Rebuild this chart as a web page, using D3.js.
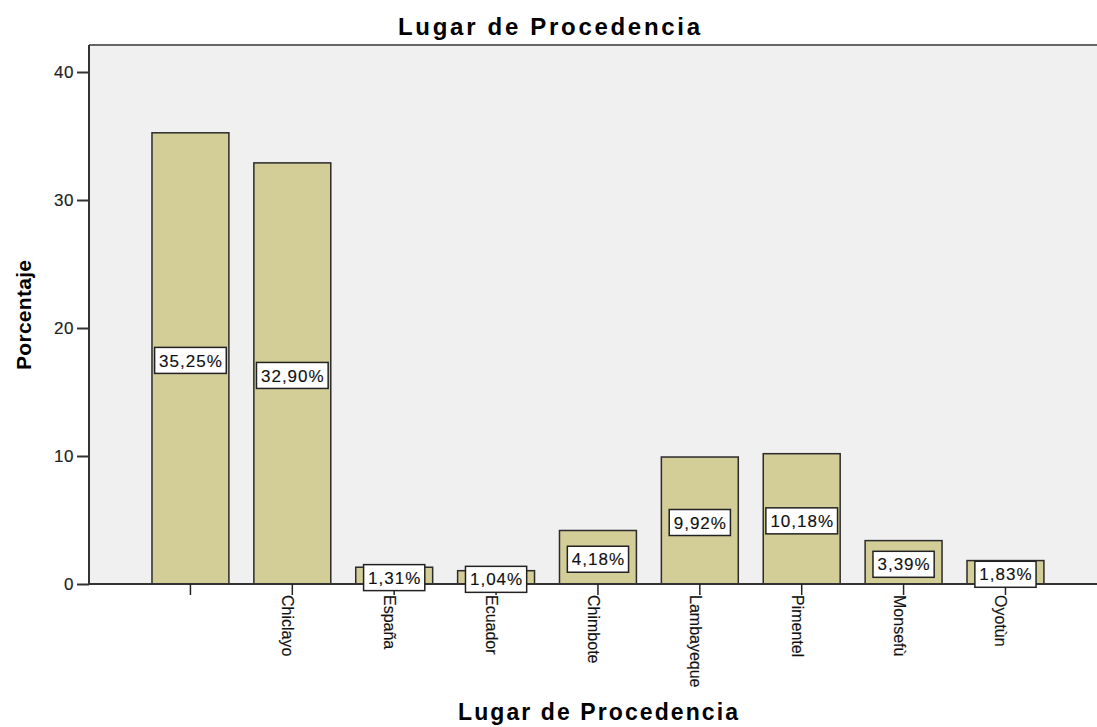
<!DOCTYPE html>
<html>
<head>
<meta charset="utf-8">
<script src="https://d3js.org/d3.v7.min.js"></script>
<style>
  body { margin: 0; background: white; }
  svg { font-family: 'Liberation Sans', Arial, sans-serif; }
</style>
</head>
<body>
<svg id="chart" width="1097" height="727"></svg>
<script>
  // data
  var categories = ["", "Chiclayo", "España", "Ecuador", "Chimbote", "Lambayeque", "Pimentel", "Monsefù", "Oyotùn"];
  var percents = [35.25, 32.90, 1.31, 1.04, 4.18, 9.92, 10.18, 3.39, 1.83];
  var yTicks = [0, 10, 20, 30, 40];

  var svg = d3.select("#chart");
  var fmt = d3.formatLocale({ decimal: ",", thousands: ".", grouping: [3], currency: ["", ""] }).format(".2f");

  var x = d3.scaleBand().domain(categories).range([139.5, 1056.4]).paddingInner(0.245).paddingOuter(0.1225);
  var y = d3.scaleLinear().domain([0, 42.11]).range([584, 45]);

  // plot background
  svg.append("rect")
    .attr("x", 89).attr("y", 45).attr("width", 1020).attr("height", 539)
    .attr("fill", "#f0f0f0");
  // frame top line
  svg.append("line")
    .attr("x1", 89).attr("x2", 1097).attr("y1", 45).attr("y2", 45)
    .attr("stroke", "#666").attr("stroke-width", 2);

  //bars
  var rows = categories.map(function (c, i) { return { cat: c, v: percents[i] }; });
  svg.append("g").selectAll("rect")
    .data(rows).enter().append("rect")
    .attr("x", function (d) { return x(d.cat); })
    .attr("y", function (d) { return y(d.v); })
    .attr("width", x.bandwidth())
    .attr("height", function (d) { return y(0) - y(d.v); })
    .attr("fill", "#d3cd98")
    .attr("stroke", "#2b2b2b")
    .attr("stroke-width", 1.5);

  // y axis
  var yAxis = svg.append("g")
    .attr("transform", "translate(89,0)")
    .call(d3.axisLeft(y).tickValues(yTicks).tickSize(12).tickPadding(3));
  yAxis.select(".domain").attr("stroke", "#333").attr("stroke-width", 2).attr("d", "M0,45V584");
  yAxis.selectAll(".tick line").attr("stroke", "#333").attr("stroke-width", 2);
  yAxis.selectAll(".tick text")
    .attr("font-size", 17).attr("letter-spacing", "0.5px").attr("fill", "#222")
    .attr("stroke", "#222").attr("stroke-width", 0.15)
    .attr("font-family", "'Liberation Sans', Arial, sans-serif");

  // x axis
  var xAxis = svg.append("g")
    .attr("transform", "translate(0,584)")
    .call(d3.axisBottom(x).tickSize(11).tickSizeOuter(0));
  xAxis.select(".domain").attr("stroke", "#333").attr("stroke-width", 2).attr("d", "M89,0H1097");
  xAxis.selectAll(".tick line").attr("stroke", "#222").attr("stroke-width", 1.5);
  xAxis.selectAll(".tick text")
    .attr("font-size", 16).attr("fill", "#111")
    .attr("stroke", "#111").attr("stroke-width", 0.15)
    .attr("font-family", "'Liberation Sans', Arial, sans-serif")
    .attr("text-anchor", "start")
    .attr("dy", null)
    .attr("x", 11).attr("y", 10)
    .attr("transform", "rotate(90)");

  // value labels in boxes
  var lab = svg.append("g").selectAll("g")
    .data(rows).enter().append("g")
    .attr("transform", function (d) {
      return "translate(" + (x(d.cat) + x.bandwidth() / 2) + "," + ((y(d.v) + y(0)) / 2 + 2) + ")";
    });
  lab.append("rect").attr("class", "box")
    .attr("fill", "white").attr("stroke", "#222").attr("stroke-width", 1.5);
  lab.append("text")
    .attr("text-anchor", "middle")
    .attr("dy", "0.36em")
    .attr("font-size", 17)
    .attr("letter-spacing", "1px")
    .attr("fill", "#111")
    .attr("stroke", "#111").attr("stroke-width", 0.15)
    .text(function (d) { return fmt(d.v) + "%"; });
  lab.each(function () {
    var g = d3.select(this);
    var w = g.select("text").node().getComputedTextLength() + 8;
    g.select("text").attr("x", 0.5);
    g.select("rect").attr("x", -w / 2).attr("y", -13).attr("width", w).attr("height", 26);
  });

  // titles
  svg.append("text")
    .attr("x", 549).attr("y", 35)
    .attr("text-anchor", "middle")
    .attr("font-size", 24).attr("font-weight", "bold")
    .attr("textLength", 302).attr("lengthAdjust", "spacing")
    .text("Lugar de Procedencia");

  svg.append("text")
    .attr("x", 598).attr("y", 720)
    .attr("text-anchor", "middle")
    .attr("font-size", 23).attr("font-weight", "bold")
    .attr("textLength", 280).attr("lengthAdjust", "spacing")
    .text("Lugar de Procedencia");

  svg.append("text")
    .attr("transform", "translate(31,315) rotate(-90)")
    .attr("text-anchor", "middle")
    .attr("font-size", 21).attr("font-weight", "bold")
    .attr("textLength", 110).attr("lengthAdjust", "spacing")
    .text("Porcentaje");
</script>
</body>
</html>
